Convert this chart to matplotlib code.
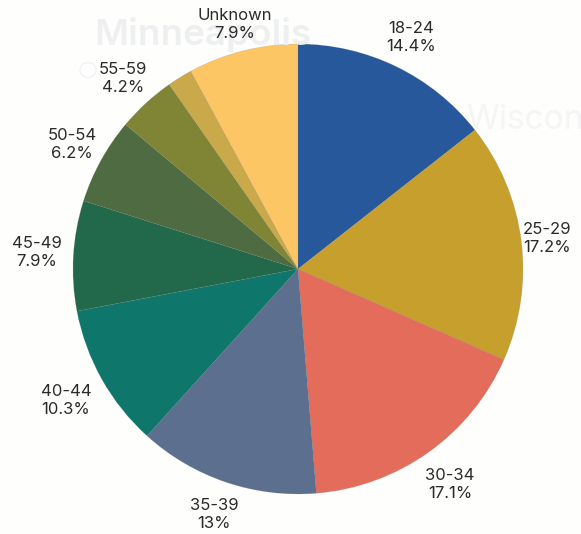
import matplotlib.pyplot as plt
from matplotlib.patches import Circle

# ----------------------------------
# Data
# ----------------------------------
ages = ["18-24", "25-29", "30-34", "35-39", "40-44", "45-49", "50-54", "55-59", "", "Unknown"]
shares = [14.4, 17.2, 17.1, 13, 10.3, 7.9, 6.2, 4.2, 1.8, 7.9]
colors = ["#27589b", "#c79f2c", "#e46c5b", "#5c6f8e", "#0f766b",
          "#22684a", "#4f6b42", "#7f8534", "#c9a94a", "#fdc665"]

# label centres in pixels from top left
label_x = [411, 547, 450, 214, 66, 37, 72, 123, None, 235]
label_y = [37, 238, 484, 515, 400, 253, 145, 78, None, 24]

W, H = 581, 534
CX, CY, R = 298, 269, 225

plt.rcParams['font.family'] = ['Inter', 'DejaVu Sans']

fig = plt.figure(figsize=(W / 100, H / 100), dpi=100, facecolor="#fefefc")

# ----------------------------------
# Faint map behind the chart
# ----------------------------------
fig.text(94 / W, 1 - 34 / H, "Minneapolis", fontsize=26.5, fontweight="semibold",
         color="#eeeff0", va="center", ha="left")
fig.text(466 / W, 1 - 120 / H, "Wisconsin", fontsize=24,
         color="#f5f5f5", va="center", ha="left")
fig.add_artist(Circle((88 / W, 1 - 70 / H), 8 / W, transform=fig.transFigure,
                      facecolor="#ffffff", edgecolor="#f3f3f2", linewidth=1))

# ----------------------------------
# Pie
# ----------------------------------
ax = fig.add_axes([(CX - R) / W, 1 - (CY + R) / H, 2 * R / W, 2 * R / H])
ax.pie(shares, colors=colors, startangle=90, counterclock=False, radius=1,
       wedgeprops={"linewidth": 0.3, "edgecolor": "#77777755"})
ax.set_xlim(-1, 1)
ax.set_ylim(-1, 1)
ax.axis("off")

for age, share, x, y in zip(ages, shares, label_x, label_y):
    if age == "":
        continue
    fig.text(x / W, 1 - y / H, f"{age}\n{share:g}%", fontsize=12, color="#2b2b2b",
             ha="center", va="center", linespacing=1.25)

fig.savefig("out.png", dpi=100, facecolor=fig.get_facecolor())
